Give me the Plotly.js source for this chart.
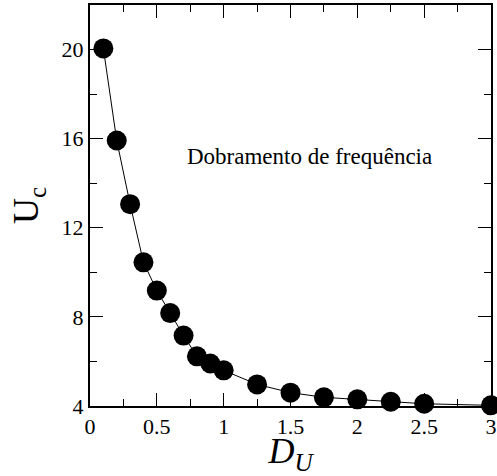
<!DOCTYPE html>
<html>
<head>
<meta charset="utf-8">
<script src="https://cdn.plot.ly/plotly-3.0.1.min.js"></script>
<style>html,body{margin:0;padding:0;background:#fff;}#chart{width:497px;height:476px;}</style>
</head>
<body>
<div id="chart"></div>
<script>
const DU = [0.1, 0.2, 0.3, 0.4, 0.5, 0.6, 0.7, 0.8, 0.9, 1.0, 1.25, 1.5, 1.75, 2.0, 2.25, 2.5, 3.0];
const Uc = [20.05, 15.92, 13.06, 10.45, 9.18, 8.17, 7.16, 6.23, 5.91, 5.6, 4.97, 4.6, 4.39, 4.3, 4.19, 4.1, 4.03];
const annotationText = 'Dobramento de frequência';

const font = 'Liberation Serif';

const trace = {
  x: DU, y: Uc, type: 'scatter', mode: 'lines+markers',
  line: {color: '#000', width: 1},
  marker: {color: '#000', size: 20},
  cliponaxis: false
};

const axisCommon = {
  showline: true, linecolor: '#000', linewidth: 2, mirror: 'allticks',
  ticks: 'inside', ticklen: 13, tickwidth: 1, tickcolor: '#000',
  showgrid: false, zeroline: false,
  tickfont: {family: font, size: 22, color: '#000'},
};

const layout = {
  width: 497, height: 476,
  margin: {l: 90, r: 6, t: 5, b: 70},
  paper_bgcolor: '#fff', plot_bgcolor: '#fff',
  showlegend: false,
  font: {family: font, color: '#000'},
  xaxis: Object.assign({}, axisCommon, {
    range: [0, 3], tick0: 0, dtick: 0.5,
    minor: {dtick: 0.25, ticks: 'inside', ticklen: 7, tickcolor: '#000', tickwidth: 1},
    title: {text: '<i>D<sub>U</sub></i>', font: {family: font, size: 36, color: '#000'}, standoff: 3}
  }),
  yaxis: Object.assign({}, axisCommon, {
    range: [4, 22], tick0: 4, dtick: 4,
    minor: {dtick: 2, ticks: 'inside', ticklen: 7, tickcolor: '#000', tickwidth: 1},
    title: {text: 'U<sub>c</sub>', font: {family: font, size: 36, color: '#000'}, standoff: 12}
  }),
  annotations: [{
    x: 1.64, y: 15.2, xref: 'x', yref: 'y', text: annotationText, showarrow: false,
    font: {family: font, size: 23, color: '#000'}
  }]
};

Plotly.newPlot('chart', [trace], layout, {displayModeBar: false, staticPlot: true});
</script>
</body>
</html>
